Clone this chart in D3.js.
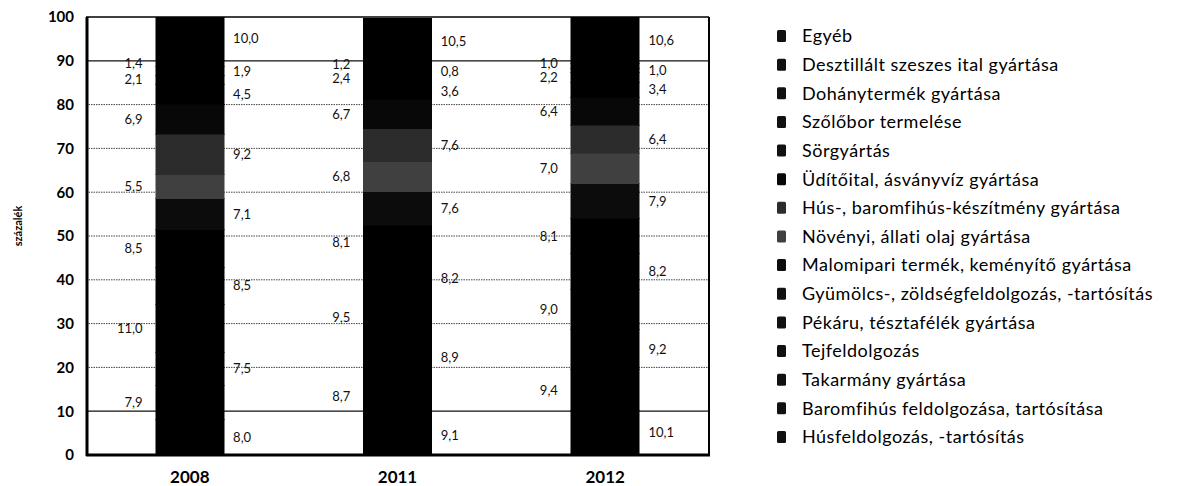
<!DOCTYPE html>
<meta charset="utf-8">
<head>
    <style>
        body { margin: 0; background: #fff; }
        .tick-label { font-family: "Lato", sans-serif; font-weight: bold; font-size: 15px; }
        .x-label { font-size: 17px; }
        .val { font-family: "Lato", sans-serif; font-size: 13px; fill: #111; }
        .legend text { font-family: "Lato", sans-serif; font-size: 18px; letter-spacing: 0.5px; fill: #000; }
    </style>
</head>
<body>
<script src="https://d3js.org/d3.v7.min.js"></script>
<script>
    // data (shares in %, bottom segment first)
    var years = ["2008", "2011", "2012"];
    var categories = [
        "Húsfeldolgozás, -tartósítás",
        "Baromfihús feldolgozása, tartósítása",
        "Takarmány gyártása",
        "Tejfeldolgozás",
        "Pékáru, tésztafélék gyártása",
        "Gyümölcs-, zöldségfeldolgozás, -tartósítás",
        "Malomipari termék, keményítő gyártása",
        "Növényi, állati olaj gyártása",
        "Hús-, baromfihús-készítmény gyártása",
        "Üdítőital, ásványvíz gyártása",
        "Sörgyártás",
        "Szőlőbor termelése",
        "Dohánytermék gyártása",
        "Desztillált szeszes ital gyártása",
        "Egyéb"
    ];
    var values2008 = [8.0, 7.9, 7.5, 11.0, 8.5, 8.5, 7.1, 5.5, 9.2, 6.9, 4.5, 2.1, 1.9, 1.4, 10.0];
    var values2011 = [9.1, 8.7, 8.9, 9.5, 8.2, 8.1, 7.6, 6.8, 7.6, 6.7, 3.6, 2.4, 0.8, 1.2, 10.5];
    var values2012 = [10.1, 9.4, 9.2, 9.0, 8.2, 8.1, 7.9, 7.0, 6.4, 6.4, 3.4, 2.2, 1.0, 1.0, 10.6];
    var yTicks = [0, 10, 20, 30, 40, 50, 60, 70, 80, 90, 100];
    var yTitle = "százalék";

    // shades (scan is mostly black, a few segments dithered grey)
    var shades = ["#000", "#000", "#000", "#000", "#000", "#000",
        "#0c0c0c", "#404040", "#2c2c2c", "#080808", "#000", "#000", "#000", "#000", "#000"];

    var margin = {top: 17, right: 473, bottom: 31, left: 86},
        width = 1182 - margin.left - margin.right,
        height = 486 - margin.top - margin.bottom;

    var rows = years.map(function(y, j) {
        var vals = [values2008, values2011, values2012][j];
        var r = {year: y};
        categories.forEach(function(c, i) { r[c] = vals[i]; });
        return r;
    });

    var x = d3.scaleBand().domain(years).range([0, width])
        .paddingInner(0.67).paddingOuter(0.335);
    var y = d3.scaleLinear().domain([0, 100]).range([height, 0]);
    var color = d3.scaleOrdinal().domain(categories).range(shades);
    var fmt = function(v) { return d3.format(".1f")(v).replace(".", ","); };

    var series = d3.stack().keys(categories)(rows);

    var svg = d3.select("body").append("svg")
        .attr("width", 1182)
        .attr("height", 486)
        .append("g")
        .attr("transform", "translate(" + margin.left + "," + margin.top + ")");

    // grid lines
    svg.selectAll(".grid")
        .data(yTicks.filter(function(t) { return t > 0 && t < 100; }))
        .enter().append("line")
        .attr("x1", 0).attr("x2", width)
        .attr("y1", function(d) { return y(d); })
        .attr("y2", function(d) { return y(d); })
        .style("stroke", function(d) { return (d == 10 || d == 90) ? "#111" : "#444"; })
        .style("stroke-width", function(d) { return (d == 10 || d == 90) ? 1.3 : 1; })
        .style("stroke-dasharray", function(d) { return (d == 10 || d == 90) ? null : "1.5,1"; });

    // bars
    var layer = svg.selectAll(".layer")
        .data(series)
        .enter().append("g")
        .attr("class", "layer")
        .style("fill", function(d) { return color(d.key); })
        .style("stroke", function(d) { return color(d.key); })
        .style("stroke-width", 0.5);
    layer.selectAll("rect")
        .data(function(d) { return d; })
        .enter().append("rect")
        .attr("shape-rendering", "crispEdges")
        .attr("x", function(d) { return x(d.data.year); })
        .attr("width", x.bandwidth())
        .attr("y", function(d) { return y(d[1]); })
        .attr("height", function(d) { return y(d[0]) - y(d[1]); });

    // value labels, alternating right / left of the bar
    var labels = [];
    series.forEach(function(s, i) {
        s.forEach(function(d) {
            var right = i % 2 == 0;
            labels.push({
                col: d.data.year + (right ? "r" : "l"),
                right: right,
                x: right ? x(d.data.year) + x.bandwidth() + 9 : x(d.data.year) - 13,
                y: y((d[0] + d[1]) / 2),
                text: fmt(d[1] - d[0])
            });
        });
    });
    // push labels apart where small segments crowd them
    d3.groups(labels, function(d) { return d.col; }).forEach(function(g) {
        var col = g[1].sort(function(a, b) { return b.y - a.y; });
        for (var k = 1; k < col.length; k++) {
            if (col[k - 1].y - col[k].y < 14) col[k].y = col[k - 1].y - 14;
        }
    });
    svg.selectAll(".val")
        .data(labels)
        .enter().append("text")
        .attr("class", "val")
        .attr("x", function(d) { return d.x; })
        .attr("y", function(d) { return d.y; })
        .attr("dy", ".35em")
        .attr("text-anchor", function(d) { return d.right ? "start" : "end"; })
        .text(function(d) { return d.text; });

    // frame
    svg.append("line").attr("x1", 0).attr("x2", width).attr("y1", 0).attr("y2", 0)
        .style("stroke", "#000").style("stroke-width", 1.5);
    svg.append("line").attr("x1", width).attr("x2", width).attr("y1", 0).attr("y2", height)
        .style("stroke", "#000").style("stroke-width", 2);
    svg.append("line").attr("x1", 1).attr("x2", 1).attr("y1", 0).attr("y2", height + 1)
        .style("stroke", "#000").style("stroke-width", 3);
    svg.append("line").attr("x1", 0).attr("x2", width + 1).attr("y1", height).attr("y2", height)
        .style("stroke", "#000").style("stroke-width", 3);

    // axes
    var yAxis = svg.append("g")
        .call(d3.axisLeft(y).tickValues(yTicks).tickSize(0).tickPadding(12));
    yAxis.select(".domain").remove();
    yAxis.selectAll("text").attr("class", "tick-label").style("fill", "#000");

    var xAxis = svg.append("g")
        .attr("transform", "translate(0," + height + ")")
        .call(d3.axisBottom(x).tickSize(0).tickPadding(16));
    xAxis.select(".domain").remove();
    xAxis.selectAll("text").attr("class", "tick-label x-label").style("fill", "#000");

    svg.append("text")
        .attr("transform", "rotate(-90)")
        .attr("x", -height / 2 + 10)
        .attr("y", -64)
        .attr("text-anchor", "middle")
        .style("font-family", "Lato, sans-serif")
        .style("font-weight", "bold")
        .style("font-size", "11px")
        .text(yTitle);

    // legend, top item = last category
    var legend = svg.append("g")
        .attr("class", "legend")
        .attr("transform", "translate(" + (width + 68) + ",0)");
    var item = legend.selectAll("g")
        .data(categories.slice().reverse())
        .enter().append("g")
        .attr("transform", function(d, i) { return "translate(0," + (19 + i * 28.64) + ")"; });
    item.append("rect")
        .attr("x", 0).attr("y", -6)
        .attr("width", 9).attr("height", 12)
        .attr("rx", 1.5)
        .style("fill", function(d) { return color(d) == "#000" ? "#111" : color(d); });
    item.append("text")
        .attr("x", 25)
        .attr("dy", ".35em")
        .text(function(d) { return d; });
</script>
</body>
